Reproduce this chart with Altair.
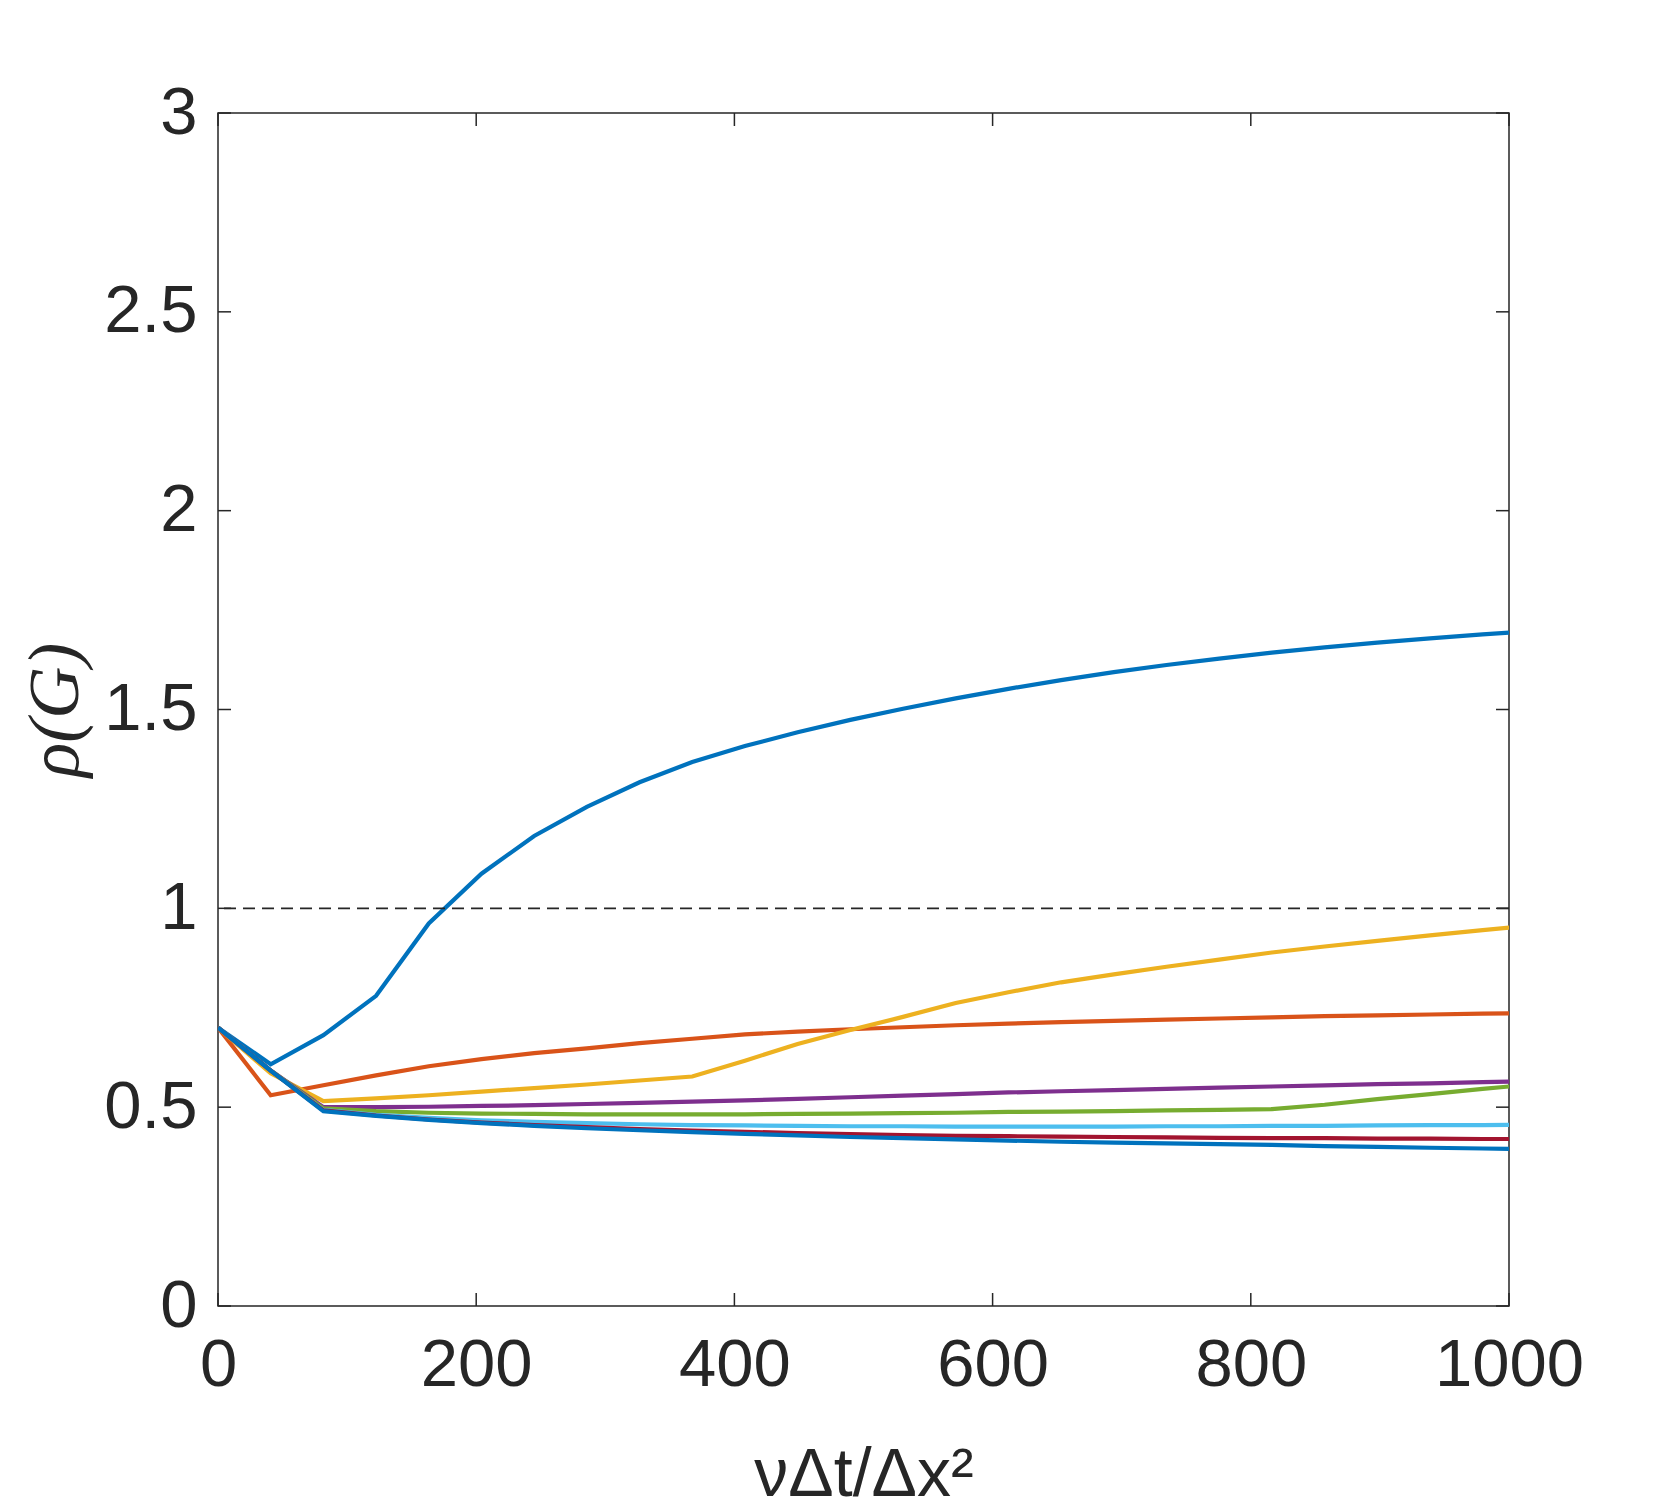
import altair as alt
import pandas as pd

# x samples (nu*dt/dx^2), axis limited to [0, 1000]
x_vals = [k * 2000 / 49 for k in range(26)]

s1_blue = [0.700, 0.608, 0.681, 0.780, 0.962, 1.087, 1.182, 1.255, 1.317, 1.368, 1.408, 1.443, 1.474,
           1.502, 1.528, 1.552, 1.574, 1.594, 1.612, 1.628, 1.643, 1.656, 1.668, 1.679, 1.689, 1.698]
s2_orange = [0.700, 0.530, 0.555, 0.580, 0.603, 0.621, 0.636, 0.648, 0.661, 0.672, 0.683, 0.690, 0.696,
             0.701, 0.706, 0.710, 0.714, 0.717, 0.720, 0.723, 0.726, 0.729, 0.731, 0.733, 0.735, 0.737]
s3_yellow = [0.700, 0.585, 0.515, 0.522, 0.530, 0.539, 0.548, 0.557, 0.567, 0.577, 0.617, 0.659, 0.694,
             0.727, 0.762, 0.789, 0.814, 0.834, 0.853, 0.871, 0.889, 0.904, 0.918, 0.932, 0.945, 0.958]
s4_purple = [0.700, 0.592, 0.500, 0.500, 0.501, 0.503, 0.505, 0.508, 0.511, 0.514, 0.517, 0.521, 0.525,
             0.529, 0.533, 0.537, 0.540, 0.543, 0.546, 0.549, 0.552, 0.555, 0.558, 0.560, 0.563, 0.565]
s5_green = [0.700, 0.592, 0.497, 0.490, 0.486, 0.484, 0.483, 0.482, 0.482, 0.482, 0.482, 0.483, 0.484,
            0.485, 0.486, 0.488, 0.489, 0.490, 0.492, 0.493, 0.495, 0.506, 0.520, 0.533, 0.546, 0.558]
s6_lightblue = [0.700, 0.592, 0.493, 0.481, 0.473, 0.467, 0.463, 0.460, 0.457, 0.455, 0.454, 0.453, 0.452,
                0.452, 0.451, 0.451, 0.451, 0.451, 0.452, 0.452, 0.453, 0.453, 0.454, 0.455, 0.455, 0.456]
s7_red = [0.700, 0.592, 0.492, 0.479, 0.469, 0.461, 0.455, 0.450, 0.445, 0.441, 0.438, 0.435, 0.432,
          0.430, 0.428, 0.427, 0.426, 0.425, 0.424, 0.423, 0.422, 0.422, 0.421, 0.421, 0.420, 0.420]
s8_blue = [0.700, 0.592, 0.490, 0.478, 0.468, 0.460, 0.453, 0.447, 0.442, 0.437, 0.433, 0.429, 0.425,
           0.422, 0.419, 0.416, 0.413, 0.411, 0.409, 0.407, 0.405, 0.402, 0.400, 0.398, 0.396, 0.394]

series_names = ["s1", "s2", "s3", "s4", "s5", "s6", "s7", "s8"]
series_vals = [s1_blue, s2_orange, s3_yellow, s4_purple, s5_green, s6_lightblue, s7_red, s8_blue]
series_colors = ["#0072BD", "#D95319", "#EDB120", "#7E2F8E", "#77AC30", "#4DBEEE", "#A2142F", "#0072BD"]

x_ticks = [0, 200, 400, 600, 800, 1000]
y_ticks = [0, 0.5, 1, 1.5, 2, 2.5, 3]

rows = []
for name, vals in zip(series_names, series_vals):
    for xv, yv in zip(x_vals, vals):
        rows.append({"x": xv, "y": yv, "series": name})
df = pd.DataFrame(rows)

W, H = 1291, 1193
AX = "#262626"
FONT = "Liberation Sans"

xscale = alt.Scale(domain=[0, 1000], nice=False, zero=False)
yscale = alt.Scale(domain=[0, 3], nice=False, zero=False)

xaxis = alt.Axis(values=x_ticks, format="d", ticks=False, tickSize=0, domain=False, grid=False,
                 labelFont=FONT, labelFontSize=67, labelColor=AX, labelPadding=26,
                 labelBaseline="top", labelFlush=False, labelOverlap=False,
                 title="νΔt/Δx²", titleFont=FONT, titleFontSize=68, titleFontWeight="normal",
                 titleColor=AX, titleX=W / 2, titleY=189, titleAlign="center",
                 titleBaseline="alphabetic")
yaxis = alt.Axis(values=y_ticks, format="~g", ticks=False, tickSize=0, domain=False, grid=False,
                 labelFont=FONT, labelFontSize=67, labelColor=AX, labelPadding=21,
                 labelFlush=False, labelOverlap=False,
                 title="ρ(G)", titleFont="Liberation Serif", titleFontStyle="italic",
                 titleFontSize=72, titleFontWeight="normal", titleColor=AX,
                 titleAngle=-90, titleX=-163, titleY=H / 2, titleAlign="center",
                 titleBaseline="middle")

lines = alt.Chart(df).mark_line(strokeWidth=4.2, clip=True).encode(
    x=alt.X("x:Q", scale=xscale, axis=xaxis),
    y=alt.Y("y:Q", scale=yscale, axis=yaxis),
    color=alt.Color("series:N", scale=alt.Scale(domain=series_names, range=series_colors), legend=None),
    order=alt.Order("x:Q"),
)

ref = alt.Chart(pd.DataFrame({"y": [1.0]})).mark_rule(
    color=AX, strokeWidth=1.6, strokeDash=[12, 7]
).encode(y=alt.Y("y:Q", scale=yscale))

xt = pd.DataFrame({"t": x_ticks})
yt = pd.DataFrame({"t": y_ticks})
TL = 13
xt_bottom = alt.Chart(xt).mark_rule(color=AX, strokeWidth=1.5).encode(
    x=alt.X("t:Q", scale=xscale), y=alt.value(H), y2=alt.value(H - TL))
xt_top = alt.Chart(xt).mark_rule(color=AX, strokeWidth=1.5).encode(
    x=alt.X("t:Q", scale=xscale), y=alt.value(0), y2=alt.value(TL))
yt_left = alt.Chart(yt).mark_rule(color=AX, strokeWidth=1.5).encode(
    y=alt.Y("t:Q", scale=yscale), x=alt.value(0), x2=alt.value(TL))
yt_right = alt.Chart(yt).mark_rule(color=AX, strokeWidth=1.5).encode(
    y=alt.Y("t:Q", scale=yscale), x=alt.value(W - TL), x2=alt.value(W))

chart = alt.layer(lines, ref, xt_bottom, xt_top, yt_left, yt_right).properties(
    width=W, height=H,
    autosize=alt.AutoSizeParams(type="none"),
    padding={"left": 210, "top": 105, "right": 140, "bottom": 200},
    background="white",
).configure_view(stroke=AX, strokeWidth=1.5)

chart.save("out.html", embed_options={"renderer": "svg", "actions": False})
